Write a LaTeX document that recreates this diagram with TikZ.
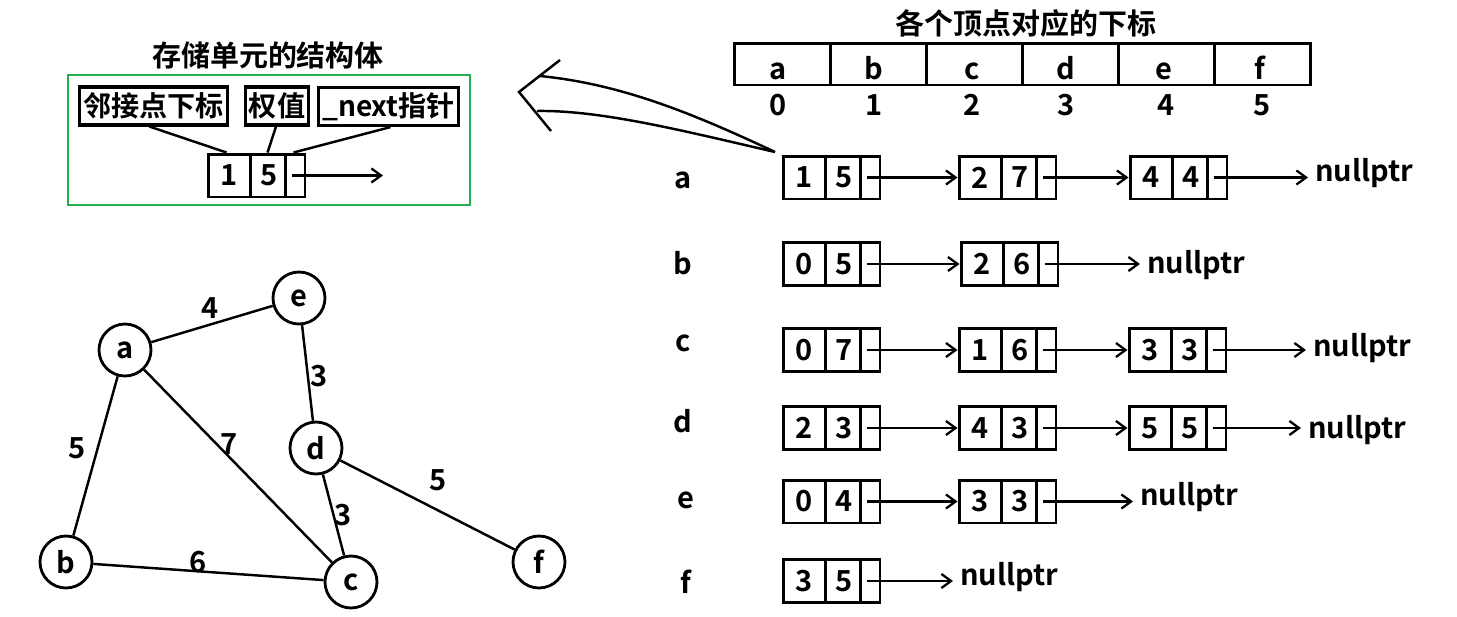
\documentclass[tikz,border=0pt]{standalone}
\usepackage{fontspec}
\setmainfont{Noto Sans CJK SC}[BoldFont={* Bold}]
\usetikzlibrary{arrows.meta,calc}
\definecolor{grn}{HTML}{22B14C}
\tikzset{
  txt/.style={font=\bfseries\fontsize{16.5}{19}\selectfont, inner sep=0pt},
  cellbox/.style={draw, line width=1.7pt, minimum width=1.94cm, minimum height=0.86cm, inner sep=0pt},
  divline/.style={line width=1.7pt},
  ptr/.style={line width=1.3pt, -{Straight Barb[length=5.5pt,width=8pt,line width=1.3pt]}},
  vtx/.style={draw, circle, line width=1.6pt, minimum size=1.04cm, inner sep=0pt, font=\bfseries\fontsize{16.5}{19}\selectfont},
  gedge/.style={line width=1.4pt},
  arrcell/.style={draw, line width=1.7pt, minimum width=1.92cm, minimum height=0.84cm, inner sep=0pt},
  lbl/.style={draw, line width=1.8pt, minimum height=0.76cm, inner xsep=2pt, inner ysep=0pt, font=\bfseries\fontsize{16}{19}\selectfont},
  nullp/.style={txt, anchor=west, inner xsep=4pt},
}
% name, x-left, y-center, key, weight
\newcommand{\lnode}[5]{%
  \node[cellbox] (#1) at (#2+48.5,#3) {};
  \draw[divline] ($(#1.north west)+(44,0)$) -- ($(#1.south west)+(44,0)$);
  \draw[divline] ($(#1.north west)+(79,0)$) -- ($(#1.south west)+(79,0)$);
  \node[txt] (#1-k) at (#2+21,#3) {#4};
  \node[txt] (#1-w) at (#2+61.5,#3) {#5};
  \coordinate (#1-p) at ($(#1.west)+(85,0)$);
}
\begin{document}
\begin{tikzpicture}[x=0.02cm,y=-0.02cm]
\useasboundingbox (0,0) rectangle (1457,616);

% ---------- structure of a storage unit ----------
\node[txt] (stitle) at (268,55) {存储单元的结构体};
\node[draw=grn, line width=1.4pt, minimum width=8.04cm, minimum height=2.6cm, inner sep=0pt] (sbox) at (269,140) {};
\node[lbl] (l1) at (153.5,106) {邻接点下标};
\node[lbl] (l2) at (277,106) {权值};
\node[lbl] (l3) at (388.5,106.5) {\_next指针};
\lnode{s}{208}{175.5}{1}{5}
\coordinate (send) at (383,175.5);
\draw[ptr] (s-p) -- (send);
\draw[gedge] ($(l1.south)+(-4,0)$) -- ($(s.north west)+(20,0)$);
\draw[gedge] ($(l2.south)+(-1,0)$) -- ($(s.north west)+(61,0)$);
\draw[gedge] ($(l3.south)+(2,0)$) -- ($(s.north west)+(87,0)$);

% ---------- big hollow arrow ----------
\coordinate (tip) at (775,152);
\coordinate (up) at (540,76);
\coordinate (lo) at (537,111);
\coordinate (ch1) at (560,60);
\coordinate (ch2) at (519,92);
\coordinate (ch3) at (551,131);
\draw[line width=1.4pt] (tip) .. controls (690,112) and (620,84) .. (up);
\draw[line width=1.4pt] (tip) .. controls (680,130) and (600,110) .. (lo);
\draw[line width=1.4pt] (ch1) -- (ch2) -- (ch3);

% ---------- vertex index array ----------
\node[txt] (atitle) at (1026,23) {各个顶点对应的下标};
\foreach \i/\v/\xl/\xi in {0/a/778/778, 1/b/874/874, 2/c/972/972, 3/d/1066/1066, 4/e/1164/1166, 5/f/1260/1262}{
  \node[arrcell] (cell\i) at (782+96*\i,64) {};
  \node[txt, anchor=base] (cv\i) at (\xl,79) {\v};
  \node[txt, anchor=base] (ci\i) at (\xi,115) {\i};
}

% ---------- adjacency lists ----------
\node[txt] (ra) at (683,180) {a};
\node[txt] (rb) at (683,263) {b};
\node[txt] (rc) at (683,343) {c};
\node[txt] (rd) at (683,421) {d};
\node[txt] (re) at (686,500) {e};
\node[txt] (rf) at (686,582) {f};

% row a
\lnode{a1}{783}{177.5}{1}{5}
\lnode{a2}{959}{177.5}{2}{7}
\lnode{a3}{1130}{177.5}{4}{4}
\node[nullp] (na) at (1308,173) {nullptr};
\draw[ptr] (a1-p) -- (a2.west);
\draw[ptr] (a2-p) -- (a3.west);
\draw[ptr] (a3-p) -- (a3-p -| na.west);

% row b
\lnode{b1}{783}{264}{0}{5}
\lnode{b2}{961}{264}{2}{6}
\node[nullp] (nb) at (1140,265) {nullptr};
\draw[ptr] (b1-p) -- (b2.west);
\draw[ptr] (b2-p) -- (b2-p -| nb.west);

% row c
\lnode{c1}{783}{350}{0}{7}
\lnode{c2}{959}{350}{1}{6}
\lnode{c3}{1129}{350}{3}{3}
\node[nullp] (nc) at (1306,348) {nullptr};
\draw[ptr] (c1-p) -- (c2.west);
\draw[ptr] (c2-p) -- (c3.west);
\draw[ptr] (c3-p) -- (c3-p -| nc.west);

% row d
\lnode{d1}{783}{428}{2}{3}
\lnode{d2}{959}{428}{4}{3}
\lnode{d3}{1129}{428}{5}{5}
\node[nullp] (nd) at (1301,430) {nullptr};
\draw[ptr] (d1-p) -- (d2.west);
\draw[ptr] (d2-p) -- (d3.west);
\draw[ptr] (d3-p) -- (d3-p -| nd.west);

% row e
\lnode{e1}{783}{501.5}{0}{4}
\lnode{e2}{959}{501.5}{3}{3}
\node[nullp] (ne) at (1133,497) {nullptr};
\draw[ptr] (e1-p) -- (e2.west);
\draw[ptr] (e2-p) -- (e2-p -| ne.west);

% row f
\lnode{f1}{783}{581}{3}{5}
\node[nullp] (nf) at (953,577) {nullptr};
\draw[ptr] (f1-p) -- (f1-p -| nf.west);

% ---------- graph ----------
\node[vtx] (ga) at (125,350) {a};
\node[vtx] (ge) at (299,298) {e};
\node[vtx] (gd) at (316,448) {d};
\node[vtx] (gb) at (66,562) {b};
\node[vtx] (gc) at (351,582) {c};
\node[vtx] (gf) at (539,562) {f};
\draw[gedge] (ga) -- (ge);
\draw[gedge] (ga) -- (gb);
\draw[gedge] (ga) -- (gc);
\draw[gedge] (ge) -- (gd);
\draw[gedge] (gd) -- (gc);
\draw[gedge] (gd) -- (gf);
\draw[gedge] (gb) -- (gc);
\node[txt] (w1) at (210,308) {4};
\node[txt] (w2) at (319,376) {3};
\node[txt] (w3) at (77,448) {5};
\node[txt] (w4) at (229,444) {7};
\node[txt] (w5) at (438,480) {5};
\node[txt] (w6) at (343,515) {3};
\node[txt] (w7) at (198,562) {6};
\end{tikzpicture}
\end{document}
